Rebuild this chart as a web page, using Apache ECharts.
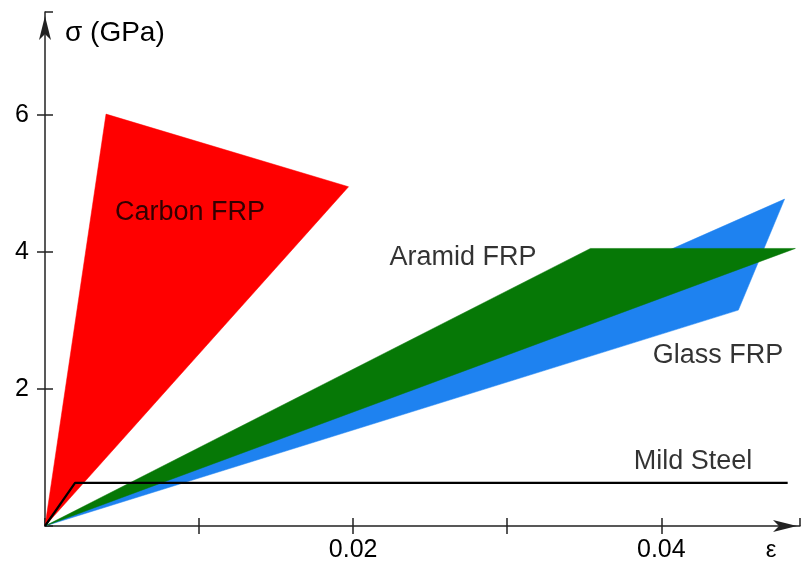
<!DOCTYPE html>
<html>
<head>
<meta charset="utf-8">
<script src="https://cdn.jsdelivr.net/npm/echarts@6/dist/echarts.min.js"></script>
<style>
html,body{margin:0;padding:0;background:#fff;}
#chart{width:802px;height:569px;}
</style>
</head>
<body>
<div id="chart"></div>
<script>
// Data (strain ε, stress σ in GPa)
const carbonFRP = [[0, 0], [0.00396, 6.01], [0.0197, 4.95]];
const glassFRP  = [[0, 0], [0.0480, 4.77], [0.0450, 3.15]];
const aramidFRP = [[0, 0], [0.0354, 4.05], [0.0487, 4.05]];
const mildSteel = [[0, 0], [0.00195, 0.63], [0.0482, 0.63]];
const labelNames = ['Carbon FRP', 'Aramid FRP', 'Glass FRP', 'Mild Steel'];
const labelX = [0.00941, 0.02713, 0.04368, 0.04206];
const labelY = [4.57, 3.91, 2.49, 0.934];
const xTickLabels = ['0.02', '0.04'];
const yTickLabels = ['2', '4', '6'];

const FONT = 'Liberation Sans, Arial, sans-serif';

function polygonSeries(name, pts, color, z) {
  return {
    name: name,
    type: 'custom',
    coordinateSystem: 'cartesian2d',
    xAxisIndex: 0, yAxisIndex: 0,
    data: pts,
    z: z,
    silent: true,
    renderItem: function (params, api) {
      if (params.dataIndex !== 0) return null;
      const points = pts.map(p => api.coord(p));
      return {
        type: 'polygon',
        shape: { points: points },
        style: { fill: color, stroke: color, lineWidth: 0.5 }
      };
    }
  };
}

const chart = echarts.init(document.getElementById('chart'), null, { renderer: 'canvas' });

const axisColor = '#222';
const tickStyle = { color: axisColor, width: 1.5 };
const option = {
  backgroundColor: '#fff',
  animation: false,
  grid: { left: 45, right: 2, top: 12, bottom: 43, containLabel: false },
  xAxis: [{
    type: 'value', min: 0, max: 0.049, interval: 0.01,
    name: 'ε', nameLocation: 'end', nameGap: -29,
    nameTextStyle: { fontFamily: FONT, fontSize: 24, color: '#000', align: 'center', verticalAlign: 'top', padding: [12, 0, 0, 0] },
    axisLine: { show: true, onZero: false, lineStyle: { color: axisColor, width: 1.5 },
      symbol: ['none', 'arrow'], symbolSize: [9, 24], symbolOffset: [0, -3] },
    axisTick: { show: true, length: 8, lineStyle: tickStyle },
    axisLabel: {
      show: true, margin: 12, fontFamily: FONT, fontSize: 25, color: '#000',
      showMinLabel: false, showMaxLabel: false,
      formatter: function (v) {
        const s = v.toFixed(2);
        return xTickLabels.indexOf(s) >= 0 ? s : '';
      }
    },
    splitLine: { show: false }
  }, {
    type: 'value', min: 0, max: 0.049, interval: 0.01, position: 'bottom', offset: -8,
    axisLine: { show: false, onZero: false },
    axisTick: { show: true, length: 8, lineStyle: tickStyle },
    axisLabel: { show: false },
    splitLine: { show: false }
  }],
  yAxis: [{
    type: 'value', min: 0, max: 7.5, interval: 2,
    name: 'σ (GPa)', nameLocation: 'end', nameGap: -21,
    nameTextStyle: { fontFamily: FONT, fontSize: 28, color: '#000', align: 'left', verticalAlign: 'middle', padding: [0, 0, 0, 20] },
    axisLine: { show: true, onZero: false, lineStyle: { color: axisColor, width: 1.5 },
      symbol: ['none', 'arrow'], symbolSize: [9, 24], symbolOffset: [0, -4] },
    axisTick: { show: true, length: 8, lineStyle: tickStyle },
    axisLabel: {
      show: true, margin: 16, fontFamily: FONT, fontSize: 25, color: '#000',
      showMinLabel: false, showMaxLabel: false,
      formatter: function (v) {
        const s = String(Math.round(v));
        return yTickLabels.indexOf(s) >= 0 ? s : '';
      }
    },
    splitLine: { show: false }
  }, {
    type: 'value', min: 0, max: 7.5, interval: 2, position: 'left', offset: -8,
    axisLine: { show: false, onZero: false },
    axisTick: { show: true, length: 8, lineStyle: tickStyle },
    axisLabel: { show: false },
    splitLine: { show: false }
  }],
  series: [
    polygonSeries('Carbon FRP', carbonFRP, '#ff0000', 2),
    polygonSeries('Glass FRP', glassFRP, '#1e82f0', 3),
    polygonSeries('Aramid FRP', aramidFRP, '#067806', 4),
    {
      name: 'Mild Steel', type: 'line', data: mildSteel, z: 6,
      xAxisIndex: 0, yAxisIndex: 0,
      showSymbol: false, symbol: 'none',
      lineStyle: { color: '#000', width: 2.2 }
    },
    {
      name: 'labels', type: 'scatter', z: 7, symbolSize: 0, silent: true,
      xAxisIndex: 0, yAxisIndex: 0,
      data: labelNames.map((n, i) => ({ value: [labelX[i], labelY[i]], name: n })),
      label: {
        show: true, position: 'inside', formatter: '{b}',
        fontFamily: FONT, fontSize: 27, color: '#000'
      }
    }
  ]
};
chart.setOption(option);
</script>
</body>
</html>
